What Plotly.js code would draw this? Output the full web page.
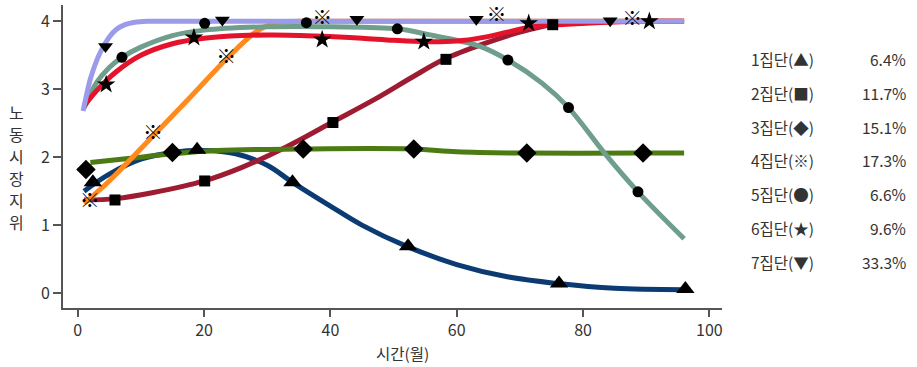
<!DOCTYPE html>
<html>
<head>
<meta charset="utf-8">
<script src="https://cdn.plot.ly/plotly-3.0.1.min.js"></script>
<style>html,body{margin:0;padding:0;background:#fff;}#chart{width:917px;height:367px;}</style>
</head>
<body>
<div id="chart"></div>
<script>
// ---- Data ----
const groupLabels = ["1집단(▲)", "2집단(■)", "3집단(◆)", "4집단(※)", "5집단(●)", "6집단(★)", "7집단(▼)"];
const groupShares = ["6.4%", "11.7%", "15.1%", "17.3%", "6.6%", "9.6%", "33.3%"];

// curves
const g1LineX = [1, 5, 10, 15, 20, 25, 30, 34, 40, 45, 52, 60, 68, 76, 85, 96];
const g1LineY = [1.5, 1.75, 1.97, 2.07, 2.1, 2.05, 1.88, 1.63, 1.28, 1.0, 0.69, 0.42, 0.24, 0.14, 0.07, 0.05];
const g2LineX = [1, 6, 12, 20, 26, 33, 40, 47, 53, 58, 64, 70, 75, 82, 90, 96];
const g2LineY = [1.37, 1.39, 1.48, 1.65, 1.85, 2.15, 2.5, 2.85, 3.18, 3.44, 3.66, 3.84, 3.95, 3.99, 4.0, 4.0];
const g3LineX = [2, 8, 15, 22, 35, 53, 60, 71, 89, 96];
const g3LineY = [1.92, 1.98, 2.05, 2.1, 2.12, 2.12, 2.08, 2.06, 2.06, 2.06];
const g4LineX = [1, 5, 12, 18, 23.5, 28, 31, 35, 40, 96];
const g4LineY = [1.32, 1.65, 2.32, 2.9, 3.44, 3.83, 3.97, 4.0, 4.0, 4.0];
const g5LineX = [1, 3, 5, 7, 10, 15, 20, 30, 40, 50.6, 55.8, 60.5, 63.7, 68.1, 73.5, 77.7, 83.4, 88.7, 96];
const g5LineY = [2.72, 3.1, 3.32, 3.47, 3.62, 3.79, 3.87, 3.92, 3.92, 3.89, 3.80, 3.71, 3.63, 3.43, 3.09, 2.73, 2.06, 1.49, 0.8];
const g6LineX = [1, 3, 6, 10, 15, 20, 26, 31, 38.7, 45, 50, 55, 60, 64, 68, 72, 76, 82, 90, 96];
const g6LineY = [2.75, 2.98, 3.25, 3.5, 3.67, 3.75, 3.79, 3.8, 3.78, 3.75, 3.72, 3.7, 3.71, 3.76, 3.84, 3.92, 3.95, 3.98, 4.0, 4.0];
const g7LineX = [0.85, 2, 3.5, 5, 6.1, 7.5, 9, 11, 14, 20, 96];
const g7LineY = [2.68, 3.15, 3.53, 3.77, 3.88, 3.95, 3.985, 4.0, 4.0, 4.0, 4.0];

// markers
const g1MarkX = [2.4, 18.9, 34, 52.3, 76.2, 96.2];
const g1MarkY = [1.63, 2.11, 1.63, 0.69, 0.14, 0.06];
const g2MarkX = [5.9, 20.1, 40.4, 58.3, 75.2];
const g2MarkY = [1.37, 1.65, 2.51, 3.44, 3.95];
const g3MarkX = [1.3, 15, 35.7, 53.2, 71.1, 89.5];
const g3MarkY = [1.82, 2.07, 2.12, 2.12, 2.06, 2.06];
const g4MarkX = [1.9, 11.9, 23.5, 38.7, 66.3, 87.8];
const g4MarkY = [1.33, 2.32, 3.44, 4.02, 4.07, 4.01];
const g5MarkX = [7, 20.1, 36.2, 50.6, 68.1, 77.7, 88.7];
const g5MarkY = [3.47, 3.97, 3.98, 3.89, 3.43, 2.73, 1.49];
const g6MarkX = [4.5, 18.4, 38.7, 54.8, 71.4, 90.5];
const g6MarkY = [3.07, 3.76, 3.73, 3.70, 3.97, 4.0];
const g7MarkX = [4.4, 22.9, 44.2, 63.1, 84.3];
const g7MarkY = [3.63, 4.02, 4.03, 4.03, 4.01];

const xTickVals = [0, 20, 40, 60, 80, 100];
const yTickVals = [0, 1, 2, 3, 4];
const xTitle = "시간(월)";
const yTitle = "노동시장지위";

// ---- Styling ----
const FONT = "'Noto Sans CJK KR', 'Noto Sans', sans-serif";
const W = 917, H = 367;
const M = {l: 63, r: 195, t: 5, b: 59};
const PW = W - M.l - M.r, PH = H - M.t - M.b;
const px2paperX = px => (px - M.l) / PW;
const px2paperY = py => (H - M.b - py) / PH;

const lineDefs = [
  [g1LineX, g1LineY, "#0c3b74", 1],
  [g2LineX, g2LineY, "#9e1b32", 1],
  [g3LineX, g3LineY, "#4b7b12", 1],
  [g4LineX, g4LineY, "#ff8a1e", 1],
  [g5LineX, g5LineY, "#6f9e8c", 1],
  [g6LineX, g6LineY, "#e4132b", 1],
  [g7LineX, g7LineY, "#9b9bea", 0.6]
];
const traces = lineDefs.map(d => ({
  x: d[0], y: d[1], type: "scatter", mode: "lines",
  line: {color: d[2], width: 5, shape: "spline", smoothing: d[3]},
  hoverinfo: "skip", showlegend: false
}));

const markDefs = [
  [g1MarkX, g1MarkY, "triangle-up", 16],
  [g2MarkX, g2MarkY, "square", 11],
  [g3MarkX, g3MarkY, "diamond", 15],
  [g5MarkX, g5MarkY, "circle", 11],
  [g6MarkX, g6MarkY, "star", 14],
  [g7MarkX, g7MarkY, "triangle-down", 13]
];
markDefs.forEach(d => traces.push({
  x: d[0], y: d[1], type: "scatter", mode: "markers",
  marker: {symbol: d[2], size: d[3], color: "#000", line: {width: 0}},
  hoverinfo: "skip", showlegend: false
}));
traces.push({
  x: g4MarkX, y: g4MarkY, type: "scatter", mode: "text",
  text: g4MarkX.map(() => "※"), textposition: "middle center",
  textfont: {family: FONT, size: 20, color: "#000"},
  hoverinfo: "skip", showlegend: false
});

// annotations: legend table + titles
const annotations = [];
groupLabels.forEach((lab, i) => {
  const yp = px2paperY(59 + i * 33.8);
  annotations.push({xref: "paper", yref: "paper", x: px2paperX(749), y: yp, xanchor: "left", yanchor: "middle",
    text: lab, showarrow: false, font: {family: FONT, size: 15.5, color: "#333"}});
  annotations.push({xref: "paper", yref: "paper", x: px2paperX(908), y: yp, xanchor: "right", yanchor: "middle",
    text: groupShares[i], showarrow: false, font: {family: FONT, size: 15.5, color: "#333"}});
});
yTitle.split("").forEach((ch, i) => {
  annotations.push({xref: "paper", yref: "paper", x: px2paperX(17), y: px2paperY(112 + i * 22), xanchor: "center", yanchor: "middle",
    text: ch, showarrow: false, font: {family: FONT, size: 16, color: "#333"}});
});
annotations.push({xref: "paper", yref: "paper", x: px2paperX(402), y: px2paperY(353), xanchor: "center", yanchor: "middle",
  text: xTitle, showarrow: false, font: {family: FONT, size: 15.5, color: "#333"}});

const layout = {
  width: W, height: H,
  margin: M,
  paper_bgcolor: "#fff", plot_bgcolor: "#fff",
  font: {family: FONT, size: 16, color: "#333"},
  xaxis: {range: [-2.33, 102], tickvals: xTickVals, showgrid: false, zeroline: false,
    showline: true, linecolor: "#555", linewidth: 2, ticks: "outside", ticklen: 7, tickwidth: 2, tickcolor: "#555",
    tickfont: {family: FONT, size: 16, color: "#333"}},
  yaxis: {range: [-0.22, 4.24], tickvals: yTickVals, showgrid: false, zeroline: false,
    showline: true, linecolor: "#555", linewidth: 2, ticks: "outside", ticklen: 8, tickwidth: 2, tickcolor: "#555",
    tickfont: {family: FONT, size: 16, color: "#333"}},
  annotations: annotations,
  showlegend: false
};

Plotly.newPlot("chart", traces, layout, {displayModeBar: false, staticPlot: true});
</script>
</body>
</html>
